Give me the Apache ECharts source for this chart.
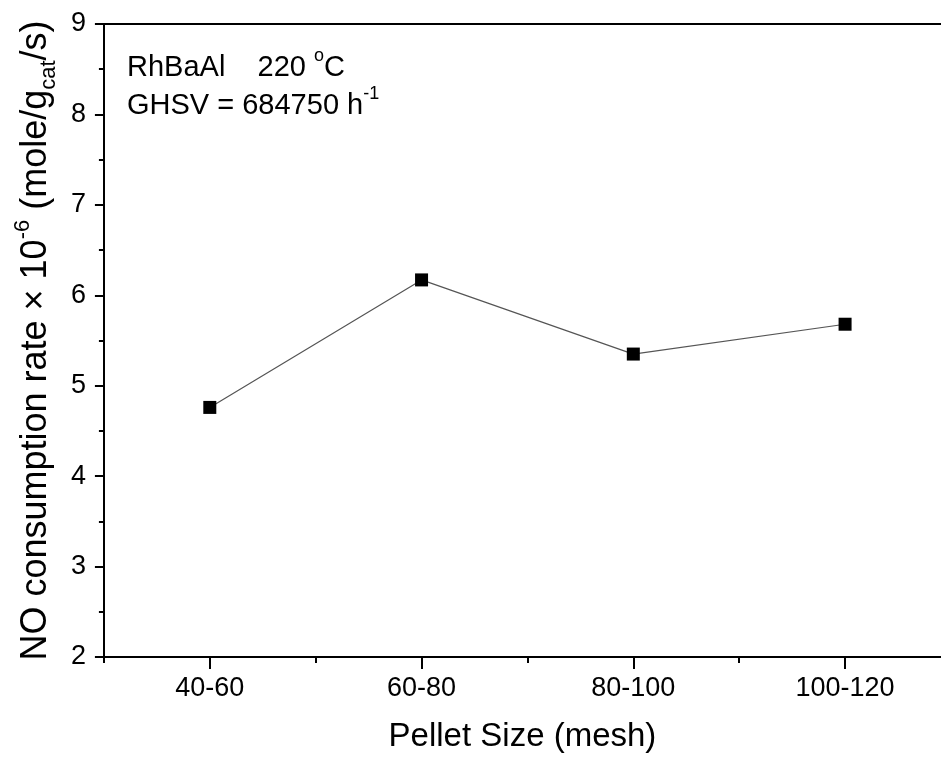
<!DOCTYPE html>
<html>
<head>
<meta charset="utf-8">
<script src="https://cdn.jsdelivr.net/npm/echarts@6/dist/echarts.min.js"></script>
<style>
html,body{margin:0;padding:0;background:#fff;}
#chart{width:941px;height:759px;}
</style>
</head>
<body>
<div id="chart"></div>
<script>
const categories = ['40-60', '60-80', '80-100', '100-120'];
const rates = [4.76, 6.17, 5.35, 5.68];
const yMin = 2, yMax = 9;
const xTitle = 'Pellet Size (mesh)';
const noteLine1 = ['RhBaAl    220 ', 'o', 'C'];
const noteLine2 = ['GHSV = 684750 h', '-1'];

const FONT = 'Liberation Sans, Arial, sans-serif';
const X_MIN = 0.5, X_MAX = 4.453;
const positions = categories.map((c, i) => i + 1);
const seriesData = rates.map((v, i) => [positions[i], v]);
const minorPos = [0.5].concat(positions.map(p => p + 0.5)).filter(p => p <= X_MAX);

const chart = echarts.init(document.getElementById('chart'), null, {renderer: 'canvas'});
chart.setOption({
  animation: false,
  backgroundColor: '#fff',
  textStyle: {fontFamily: FONT, color: '#000'},
  grid: {left: 103, top: 24, bottom: 102, right: 0, containLabel: false},
  xAxis: [{
    type: 'value', min: X_MIN, max: X_MAX, interval: 0.5, position: 'bottom',
    axisLine: {show: true, lineStyle: {color: '#000', width: 2}},
    axisTick: {show: true, customValues: positions, length: 12, lineStyle: {color: '#000', width: 2}},
    axisLabel: {show: true, customValues: positions, margin: 18, fontSize: 27, fontFamily: FONT, color: '#000',
      formatter: v => categories[Math.round(v) - 1] || ''},
    splitLine: {show: false},
    name: xTitle, nameLocation: 'middle', nameGap: 63,
    nameTextStyle: {fontSize: 33, fontFamily: FONT, color: '#000'}
  }, {
    type: 'value', min: X_MIN, max: X_MAX, interval: 0.5, position: 'bottom', gridIndex: 0,
    axisLine: {show: false},
    axisTick: {show: true, customValues: minorPos, length: 6, lineStyle: {color: '#000', width: 2}},
    axisLabel: {show: false},
    splitLine: {show: false}
  }, {
    type: 'value', min: X_MIN, max: X_MAX, position: 'top', gridIndex: 0,
    axisLine: {show: true, lineStyle: {color: '#000', width: 2}},
    axisTick: {show: false}, axisLabel: {show: false}, splitLine: {show: false}
  }],
  yAxis: [{
    type: 'value', min: yMin, max: yMax, interval: 1,
    axisLine: {show: true, lineStyle: {color: '#000', width: 2}},
    axisTick: {show: true, length: 9, lineStyle: {color: '#000', width: 2}},
    minorTick: {show: true, splitNumber: 2, length: 5, lineStyle: {color: '#000', width: 2}},
    axisLabel: {margin: 18, fontSize: 27, fontFamily: FONT, color: '#000'},
    splitLine: {show: false},
    name: '{n|NO consumption rate × 10}{sup|-6}{n| (mole/g}{sub|cat}{n|/s)}',
    nameLocation: 'middle', nameGap: 48, nameRotate: 90,
    nameTextStyle: {
      fontFamily: FONT, color: '#000',
      rich: {
        n: {fontSize: 36, fontFamily: FONT, color: '#000', lineHeight: 46, verticalAlign: 'bottom'},
        sup: {fontSize: 22, fontFamily: FONT, color: '#000', lineHeight: 46, verticalAlign: 'top', padding: [4, 0, 0, 0]},
        sub: {fontSize: 22, fontFamily: FONT, color: '#000', lineHeight: 46, verticalAlign: 'bottom', padding: [0, 0, -6, 0]}
      }
    }
  }],
  graphic: [{
    type: 'text', left: 127, top: 44,
    style: {
      text: '{n|' + noteLine1[0] + '}{sup|' + noteLine1[1] + '}{n|' + noteLine1[2] + '}',
      rich: {
        n: {fontSize: 29, fontFamily: FONT, fill: '#000', lineHeight: 38, verticalAlign: 'bottom'},
        sup: {fontSize: 18, fontFamily: FONT, fill: '#000', lineHeight: 38, verticalAlign: 'top', padding: [3, 0, 0, 0]}
      }
    }
  }, {
    type: 'text', left: 127, top: 82,
    style: {
      text: '{n|' + noteLine2[0] + '}{sup|' + noteLine2[1] + '}',
      rich: {
        n: {fontSize: 29, fontFamily: FONT, fill: '#000', lineHeight: 38, verticalAlign: 'bottom'},
        sup: {fontSize: 18, fontFamily: FONT, fill: '#000', lineHeight: 38, verticalAlign: 'top', padding: [3, 0, 0, 0]}
      }
    }
  }],
  series: [{
    type: 'line', xAxisIndex: 0, yAxisIndex: 0,
    data: seriesData,
    symbol: 'rect', symbolSize: 13,
    itemStyle: {color: '#000'},
    lineStyle: {color: '#555', width: 1.2},
    label: {show: false}
  }]
});
</script>
</body>
</html>
